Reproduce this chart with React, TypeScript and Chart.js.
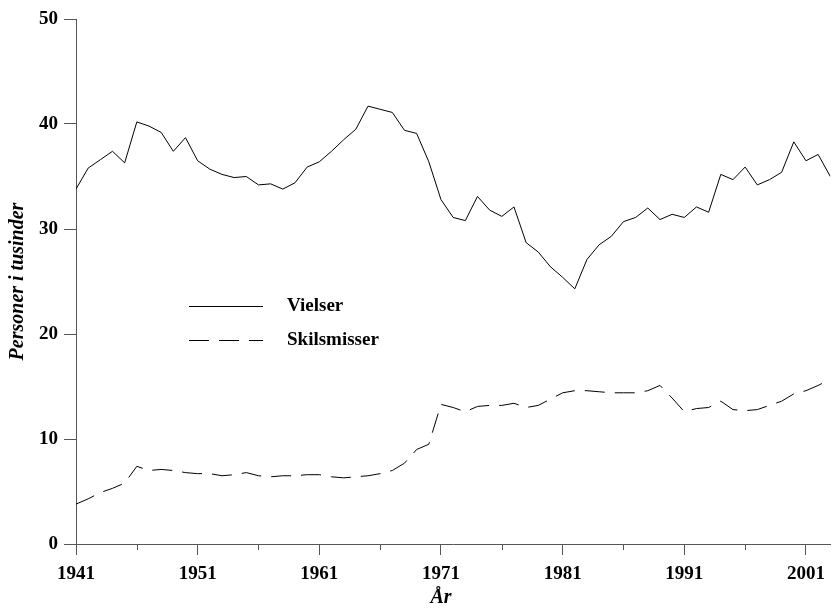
import React, { useEffect, useRef } from "react";
import { Chart, registerables } from "chart.js";

Chart.register(...registerables);

const years = [
  1941, 1942, 1943, 1944, 1945, 1946, 1947, 1948, 1949, 1950,
  1951, 1952, 1953, 1954, 1955, 1956, 1957, 1958, 1959, 1960,
  1961, 1962, 1963, 1964, 1965, 1966, 1967, 1968, 1969, 1970,
  1971, 1972, 1973, 1974, 1975, 1976, 1977, 1978, 1979, 1980,
  1981, 1982, 1983, 1984, 1985, 1986, 1987, 1988, 1989, 1990,
  1991, 1992, 1993, 1994, 1995, 1996, 1997, 1998, 1999, 2000,
  2001, 2002, 2003,
];

const vielser = [
  33.8, 35.8, 36.6, 37.4, 36.3, 40.2, 39.8, 39.2, 37.4, 38.7,
  36.5, 35.7, 35.2, 34.9, 35.0, 34.2, 34.3, 33.8, 34.4, 35.9,
  36.4, 37.4, 38.5, 39.5, 41.7, 41.4, 41.1, 39.4, 39.1, 36.4,
  32.8, 31.1, 30.8, 33.1, 31.8, 31.2, 32.1, 28.7, 27.8, 26.4,
  25.4, 24.3, 27.1, 28.5, 29.3, 30.7, 31.1, 32.0, 30.9, 31.4,
  31.1, 32.1, 31.6, 35.2, 34.7, 35.9, 34.2, 34.7, 35.4, 38.3,
  36.5, 37.1, 35.0,
];

const skilsmisser = [
  3.8, 4.3, 4.9, 5.3, 5.8, 7.4, 7.0, 7.1, 7.0, 6.8,
  6.7, 6.7, 6.5, 6.6, 6.8, 6.5, 6.4, 6.5, 6.5, 6.6,
  6.6, 6.4, 6.3, 6.4, 6.5, 6.7, 7.0, 7.7, 9.0, 9.5,
  13.3, 13.0, 12.6, 13.1, 13.2, 13.2, 13.4, 13.0, 13.2, 13.8,
  14.4, 14.6, 14.6, 14.5, 14.4, 14.4, 14.4, 14.6, 15.1, 13.9,
  12.6, 12.9, 13.0, 13.6, 12.8, 12.7, 12.8, 13.2, 13.6, 14.3,
  14.6, 15.1, 15.7,
];

const xMajorTicks = [1941, 1951, 1961, 1971, 1981, 1991, 2001];
const xMinorTicks = [1946, 1956, 1966, 1976, 1986, 1996];
const yTicks = [0, 10, 20, 30, 40, 50];

const seriesNames = ["Vielser", "Skilsmisser"];
const xTitle = "År";
const yTitle = "Personer i tusinder";

const FONT = "'Liberation Serif', 'Times New Roman', serif";
const AXIS_COLOR = "#555555";

const minorTickPlugin = {
  id: "minorTicks",
  afterDraw(chart: any) {
    const xs = chart.scales.x;
    const ctx = chart.ctx;
    ctx.save();
    ctx.strokeStyle = AXIS_COLOR;
    ctx.lineWidth = 1;
    for (const v of xMinorTicks) {
      const px = Math.round(xs.getPixelForValue(v)) + 0.5;
      ctx.beginPath();
      ctx.moveTo(px, xs.top);
      ctx.lineTo(px, xs.top + 6);
      ctx.stroke();
    }
    // x-axis title centred between first and last labelled tick
    const cx =
      (xs.getPixelForValue(xMajorTicks[0]) +
        xs.getPixelForValue(xMajorTicks[xMajorTicks.length - 1])) / 2;
    ctx.fillStyle = "#000";
    ctx.font = `italic bold 20px ${FONT}`;
    ctx.textAlign = "center";
    ctx.textBaseline = "middle";
    ctx.fillText(xTitle, cx, xs.bottom - 16);
    ctx.restore();
  },
};

const innerLegendPlugin = {
  id: "innerLegend",
  afterDraw(chart: any) {
    const ctx = chart.ctx;
    const x0 = 189;
    const x1 = 263;
    const tx = 287;
    const rows = [306, 340];
    ctx.save();
    chart.data.datasets.forEach((ds: any, i: number) => {
      const y = rows[i] + 0.5;
      ctx.strokeStyle = "#000";
      ctx.lineWidth = 1;
      ctx.setLineDash(ds.borderDash || []);
      ctx.beginPath();
      ctx.moveTo(x0, y);
      ctx.lineTo(x1, y);
      ctx.stroke();
      ctx.setLineDash([]);
      ctx.fillStyle = "#000";
      ctx.font = `bold 19px ${FONT}`;
      ctx.textBaseline = "middle";
      ctx.textAlign = "left";
      ctx.fillText(ds.label, tx, rows[i]);
    });
    ctx.restore();
  },
};

export default function App() {
  const ref = useRef<HTMLCanvasElement | null>(null);

  useEffect(() => {
    if (!ref.current) return;
    const chart = new Chart(ref.current, {
      type: "line",
      data: {
        datasets: [
          {
            label: seriesNames[0],
            data: years.map((yr, i) => ({ x: yr, y: vielser[i] })),
            borderColor: "#000",
            borderWidth: 1,
            pointRadius: 0,
            tension: 0,
            fill: false,
          },
          {
            label: seriesNames[1],
            data: years.map((yr, i) => ({ x: yr, y: skilsmisser[i] })),
            borderColor: "#000",
            borderWidth: 1,
            borderDash: [20, 10],
            pointRadius: 0,
            tension: 0,
            fill: false,
          },
        ],
      },
      options: {
        animation: false,
        responsive: false,
        devicePixelRatio: 1,
        layout: { padding: { top: 19, right: 1, left: 0, bottom: 0 } },
        plugins: {
          legend: { display: false },
          tooltip: { enabled: false },
        },
        scales: {
          x: {
            type: "linear",
            min: 1941,
            max: 2003,
            afterBuildTicks: (scale: any) => {
              scale.ticks = xMajorTicks.map((v) => ({ value: v }));
            },
            afterFit: (scale: any) => {
              scale.height = 70;
            },
            ticks: {
              autoSkip: false,
              maxRotation: 0,
              padding: 8,
              color: "#000",
              font: { family: FONT, size: 19, weight: "bold" },
              callback: (v: any) => String(v),
            },
            grid: {
              display: true,
              drawOnChartArea: false,
              drawTicks: true,
              tickLength: 11,
              color: AXIS_COLOR,
            },
            border: { display: true, color: AXIS_COLOR, width: 1 },
            title: { display: false },
          },
          y: {
            type: "linear",
            min: 0,
            max: 50,
            afterBuildTicks: (scale: any) => {
              scale.ticks = yTicks.map((v) => ({ value: v }));
            },
            afterFit: (scale: any) => {
              scale.width = 76;
            },
            ticks: {
              padding: 6,
              color: "#000",
              font: { family: FONT, size: 19, weight: "bold" },
            },
            grid: {
              display: true,
              drawOnChartArea: false,
              drawTicks: true,
              tickLength: 12,
              color: AXIS_COLOR,
            },
            border: { display: true, color: AXIS_COLOR, width: 1 },
            title: {
              display: true,
              text: yTitle,
              color: "#000",
              font: { family: FONT, size: 20, weight: "bold", style: "italic" },
              padding: { top: 6, bottom: 0 },
            },
          },
        },
      },
      plugins: [minorTickPlugin, innerLegendPlugin],
    });
    return () => chart.destroy();
  }, []);

  return (
    <div style={{ position: "absolute", left: 0, top: 0, width: 833, height: 614 }}>
      <canvas ref={ref} width={833} height={614} style={{ display: "block" }} />
    </div>
  );
}
